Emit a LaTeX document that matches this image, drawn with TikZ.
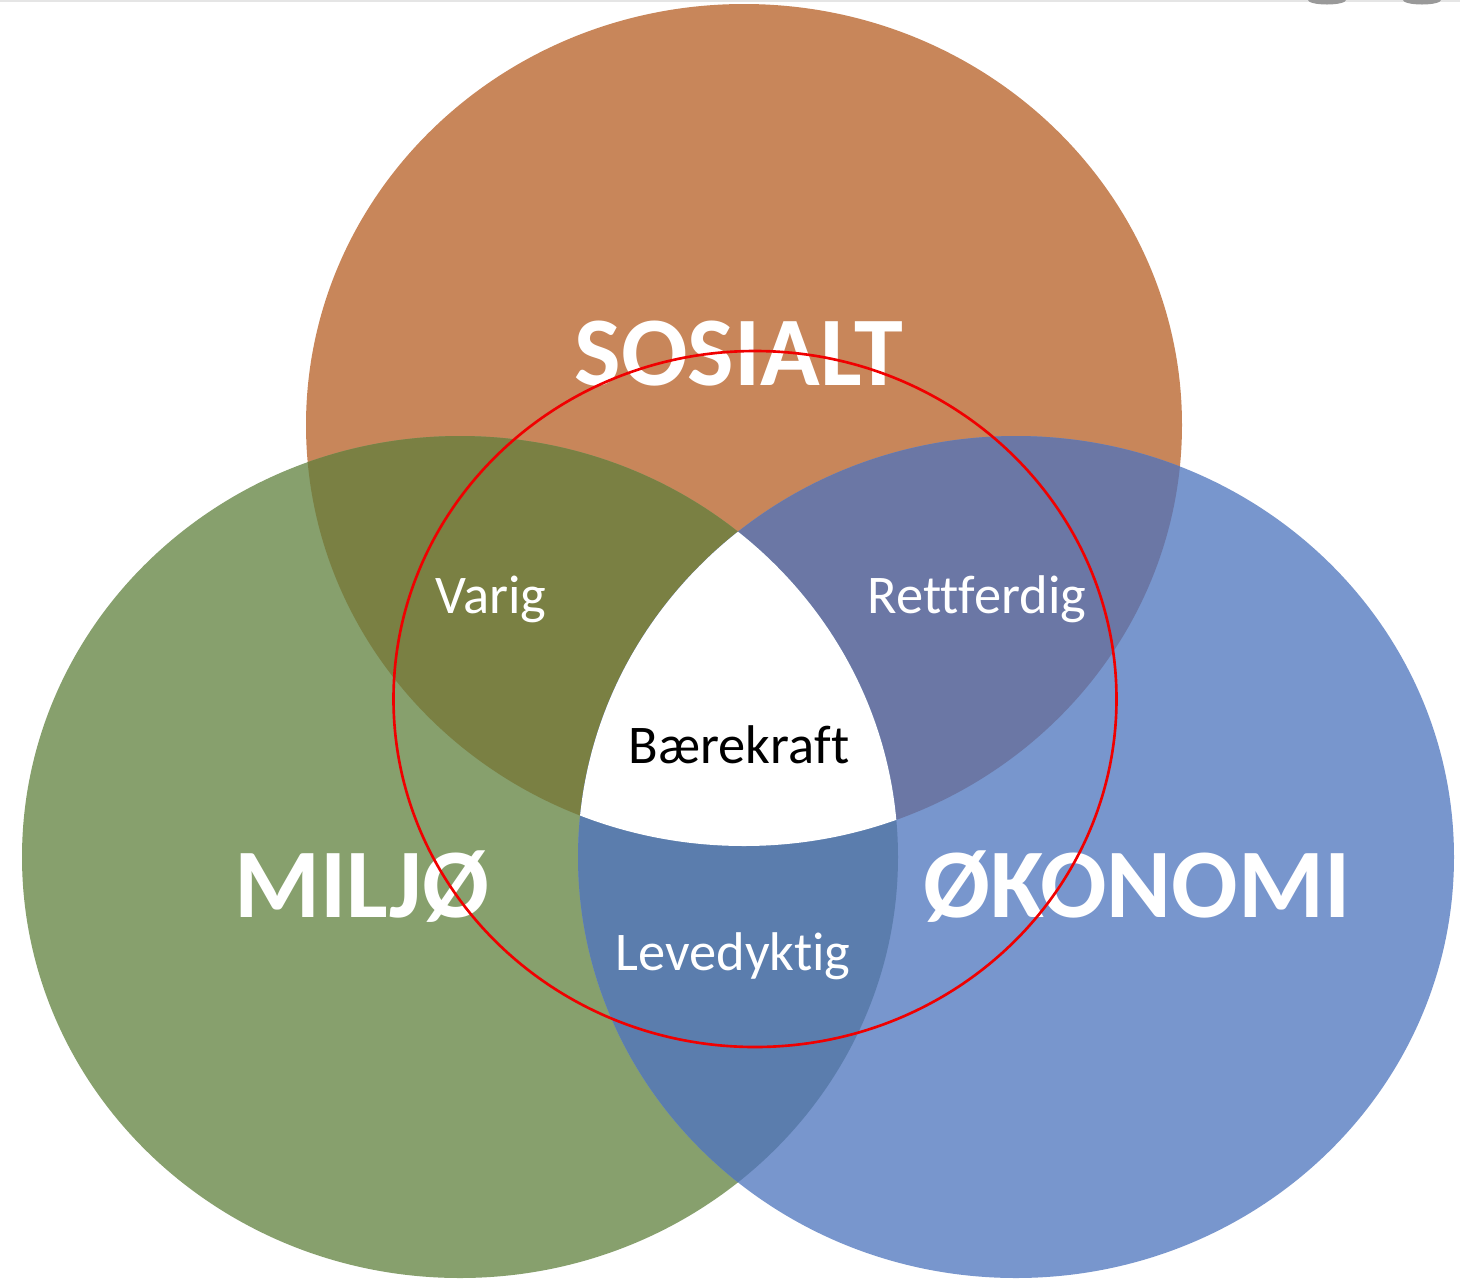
\documentclass[tikz,border=0pt]{standalone}
\usepackage{fontspec}
\setmainfont{Carlito}[Ligatures=NoCommon]
\usetikzlibrary{positioning}

\definecolor{sosialt}{HTML}{C8865A}
\definecolor{miljo}{HTML}{87A06D}
\definecolor{okonomi}{HTML}{7896CD}
\definecolor{varig}{HTML}{7A8043}
\definecolor{rettferdig}{HTML}{6B77A5}
\definecolor{levedyktig}{HTML}{5B7DAD}
\definecolor{redring}{HTML}{F00000}

\begin{document}
\begin{tikzpicture}[
	ring/.style={x radius=4.38, y radius=4.21},
	bigtext/.style={text=white, anchor=base, font=\fontsize{28}{30}\selectfont\bfseries},
	smalltext/.style={text=white, anchor=base, font=\fontsize{15.5}{18}\selectfont}
	]
	
	\useasboundingbox (0,0) rectangle (14.60,-12.81);
	\fill[white] (0,0) rectangle (14.60,-12.81);
	
	% kant oppe
	\draw[gray!20, line width=1pt] (0,0) -- (14.60,0);
	\fill[gray!80] (13.27,0) ellipse [x radius=0.19, y radius=0.045];
	\fill[gray!80] (14.22,0) ellipse [x radius=0.19, y radius=0.045];
	
	% ======================
	% sirkler
	% ======================
	\coordinate (S) at (7.44,-4.25);
	\coordinate (M) at (4.60,-8.57);
	\coordinate (O) at (10.16,-8.57);
	
	\fill[sosialt] (S) ellipse [ring];
	\fill[miljo] (M) ellipse [ring];
	\fill[okonomi] (O) ellipse [ring];
	
	% overlapp
	\begin{scope}
		\clip (M) ellipse [ring];
		\fill[varig] (S) ellipse [ring];
	\end{scope}
	\begin{scope}
		\clip (O) ellipse [ring];
		\fill[rettferdig] (S) ellipse [ring];
	\end{scope}
	\begin{scope}
		\clip (M) ellipse [ring];
		\fill[levedyktig] (O) ellipse [ring];
	\end{scope}
	\begin{scope}
		\clip (M) ellipse [ring];
		\clip (O) ellipse [ring];
		\fill[white] (S) ellipse [ring];
	\end{scope}
	
	% ======================
	% tekst
	% ======================
	\node[bigtext] (sosialttxt) at (7.39,-3.85) {SOSIALT};
	\node[bigtext] (miljotxt) at (3.62,-9.17) {MILJØ};
	\node[bigtext] (okonomitxt) at (11.37,-9.17) {ØKONOMI};
	
	\node[smalltext] (varigtxt) at (4.91,-6.13) {Varig};
	\node[smalltext] (rettferdigtxt) at (9.77,-6.13) {Rettferdig};
	\node[smalltext] (levedyktigtxt) at (7.33,-9.70) {Levedyktig};
	\node[smalltext, text=black] (baerekrafttxt) at (7.39,-7.63) {Bærekraft};
	
	% rød ring
	\draw[redring, line width=0.75pt] (7.55,-6.99) ellipse [x radius=3.615, y radius=3.48];
	
\end{tikzpicture}
\end{document}
